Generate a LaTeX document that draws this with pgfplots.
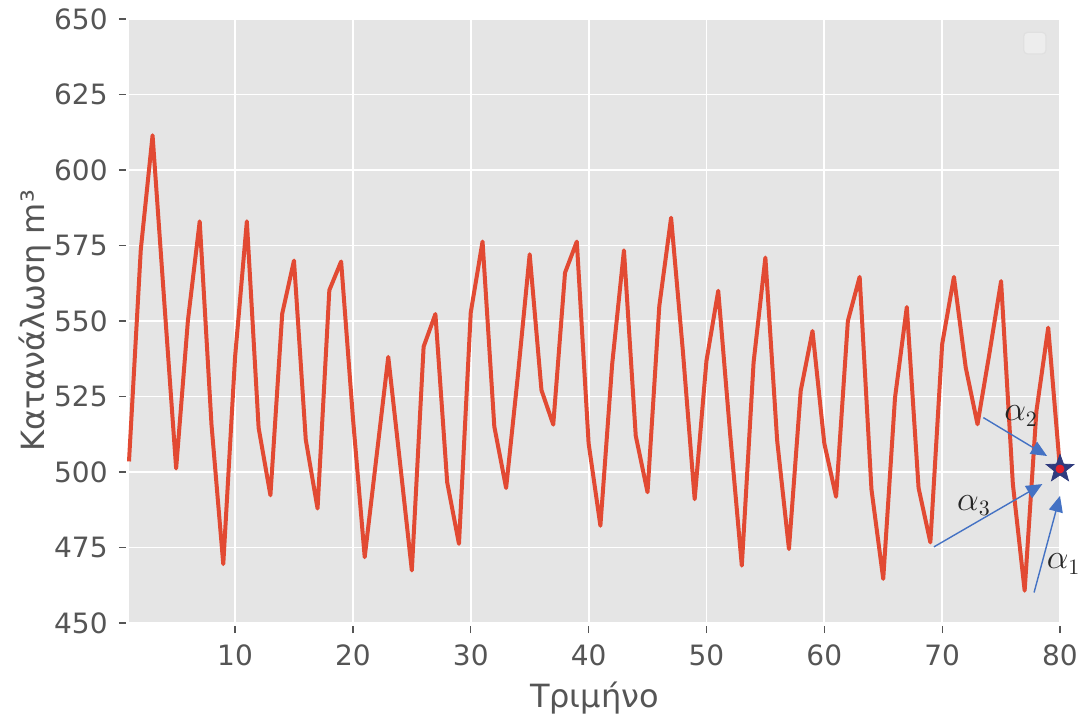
\documentclass[border=0pt]{standalone}
\usepackage{pgfplots}
\pgfplotsset{compat=1.18}
\usepackage{fontspec}
\setmainfont{DejaVu Sans}
\usetikzlibrary{arrows.meta}
\definecolor{bgc}{HTML}{E5E5E5}
\definecolor{linec}{HTML}{E24A33}
\definecolor{txt}{HTML}{555555}
\definecolor{arr}{HTML}{4472C4}
\definecolor{starc}{HTML}{2F3B7E}
\definecolor{dotc}{HTML}{E3202A}
\pgfdeclareplotmark{fstar}{%
  \pgfpathmoveto{\pgfpointpolar{90}{\pgfplotmarksize}}%
  \pgfpathlineto{\pgfpointpolar{126}{0.42\pgfplotmarksize}}%
  \pgfpathlineto{\pgfpointpolar{162}{\pgfplotmarksize}}%
  \pgfpathlineto{\pgfpointpolar{198}{0.42\pgfplotmarksize}}%
  \pgfpathlineto{\pgfpointpolar{234}{\pgfplotmarksize}}%
  \pgfpathlineto{\pgfpointpolar{270}{0.42\pgfplotmarksize}}%
  \pgfpathlineto{\pgfpointpolar{306}{\pgfplotmarksize}}%
  \pgfpathlineto{\pgfpointpolar{342}{0.42\pgfplotmarksize}}%
  \pgfpathlineto{\pgfpointpolar{18}{\pgfplotmarksize}}%
  \pgfpathlineto{\pgfpointpolar{54}{0.42\pgfplotmarksize}}%
  \pgfpathclose
  \pgfusepathqfillstroke
}
\pgfplotstableread{
x y
1 503.5
2 573.6
3 611.5
4 556
5 501.2
6 550.2
7 583
8 515.7
9 469.5
10 538
11 583
12 514.6
13 492.3
14 552.4
15 570
16 510.7
17 487.9
18 560.2
19 569.7
20 518
21 471.8
22 505
23 538.1
24 503
25 467.4
26 541.5
27 552.3
28 496.6
29 476.2
30 552.8
31 576.3
32 515
33 494.7
34 532
35 572.1
36 527.1
37 515.7
38 566
39 576.3
40 509.5
41 482.2
42 535.7
43 573.4
44 512
45 493.3
46 555
47 584.2
48 540
49 491
50 536.8
51 560
52 513
53 469
54 536.3
55 571
56 510.4
57 474.5
58 526.9
59 546.7
60 509.5
61 491.8
62 550
63 564.6
64 494.3
65 464.6
66 524.6
67 554.6
68 494.7
69 476.7
70 542.3
71 564.6
72 534.6
73 515.8
74 539
75 563.2
76 496
77 460.7
78 520.2
79 547.8
80 501
}\consumption
\begin{document}
\begin{tikzpicture}
\begin{axis}[
  name=ax,
  width=465.5pt, height=302pt, scale only axis,
  xmin=1, xmax=80, ymin=450, ymax=650,
  xtick={10,20,...,80}, ytick={450,475,...,650},
  axis background/.style={fill=bgc},
  axis line style={draw=none},
  grid=major, major grid style={white, line width=0.9pt},
  tick style={txt, line width=0.6pt},
  tick align=outside, major tick length=3.5pt,
  xtick style={yshift=-1.5pt}, ytick style={xshift=-1.5pt},
  xtick pos=bottom, ytick pos=left,
  ticklabel style={font=\fontsize{14}{16}\selectfont, text=txt, inner sep=0pt},
  xticklabel style={anchor=base, yshift=-17.5pt},
  yticklabel style={anchor=east, xshift=-7pt},
  /pgf/number format/assume math mode=true,
  xlabel={Τριμήνο}, ylabel={Κατανάλωση m³},
  every axis x label/.style={at={(rel axis cs:0.5,0)}, anchor=base, yshift=-42pt},
  every axis y label/.style={at={(rel axis cs:0,0.5)}, xshift=-47pt, rotate=90, anchor=center},
  label style={font=\fontsize{16}{19}\selectfont, text=txt},
  clip=false,
]
\addplot[linec, line width=2pt, line join=round] table[x=x,y=y] {\consumption};
\addplot[only marks, mark=fstar, mark size=7.2pt, mark options={fill=starc, draw=starc, line width=0.4pt}] coordinates {(80,501)};
\addplot[only marks, mark=*, mark size=2pt, mark options={fill=dotc, draw=dotc}] coordinates {(80,501)};
\draw[arr, line width=0.7pt, -{Triangle[length=8pt,width=7pt]}] (axis cs:73.5,518) -- (axis cs:78.9,505.3);
\draw[arr, line width=0.7pt, -{Triangle[length=8pt,width=7pt]}] (axis cs:69.3,475.2) -- (axis cs:78.5,496);
\draw[arr, line width=0.7pt, -{Triangle[length=8pt,width=7pt]}] (axis cs:77.8,460.1) -- (axis cs:80.0,492.1);
\node[font=\fontsize{16}{18}\selectfont, text=black!85] at (axis cs:76.7,518.5) {$\alpha_2$};
\node[font=\fontsize{16}{18}\selectfont, text=black!85] at (axis cs:72.7,488.8) {$\alpha_3$};
\node[font=\fontsize{16}{18}\selectfont, text=black!85] at (axis cs:80.3,469.5) {$\alpha_1$};
\draw[black!12, line width=0.6pt, fill=white!30!bgc, rounded corners=2pt] (rel axis cs:0.961,0.942) rectangle (rel axis cs:0.985,0.978);
\end{axis}
\pgfresetboundingbox
\path[use as bounding box] ([shift={(-64.5pt,-47pt)}]ax.south west) rectangle ([shift={(10pt,9.5pt)}]ax.north east);
\end{tikzpicture}
\end{document}
